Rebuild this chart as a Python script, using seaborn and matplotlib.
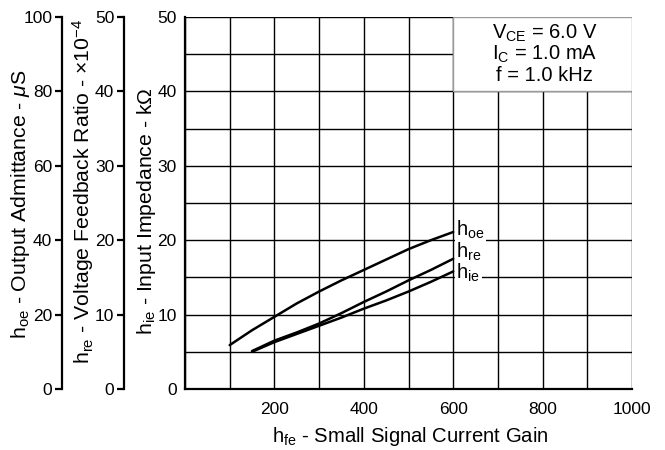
import matplotlib
matplotlib.use("Agg")
import matplotlib.pyplot as plt
import seaborn as sns
import pandas as pd
from matplotlib.patches import Rectangle

# ---- data ----
hfe_oe = [100, 150, 200, 250, 300, 350, 400, 450, 500, 550, 600]
hoe_uS = [11.8, 15.8, 19.4, 23.0, 26.2, 29.2, 32.0, 34.8, 37.6, 40.0, 42.2]  # uS (0-100 axis)
hfe_re = [150, 200, 250, 300, 350, 400, 450, 500, 550, 600]
hre_e4 = [5.1, 6.5, 7.6, 8.8, 10.2, 11.7, 13.1, 14.6, 16.0, 17.5]           # x1e-4 (0-50 axis)
hfe_ie = [150, 200, 250, 300, 350, 400, 450, 500, 550, 600]
hie_k = [5.0, 6.3, 7.4, 8.5, 9.6, 10.8, 11.9, 13.1, 14.4, 15.8]             # kOhm (0-50 axis)

x_ticks = [0, 100, 200, 300, 400, 500, 600, 700, 800, 900, 1000]
x_ticklabels = ["", "", "200", "", "400", "", "600", "", "800", "", "1000"]
y_ticks = [0, 5, 10, 15, 20, 25, 30, 35, 40, 45, 50]
y_ticklabels = ["0", "", "10", "", "20", "", "30", "", "40", "", "50"]
oe_ticks = [0, 20, 40, 60, 80, 100]
re_ticks = [0, 10, 20, 30, 40, 50]

sns.set_theme(style="white")
plt.rcParams["font.family"] = ["Liberation Sans", "DejaVu Sans"]
plt.rcParams["mathtext.fontset"] = "custom"
plt.rcParams["mathtext.rm"] = "Liberation Sans"
plt.rcParams["mathtext.it"] = "Liberation Sans:italic"
plt.rcParams["text.color"] = "black"
plt.rcParams["axes.labelcolor"] = "black"
plt.rcParams["xtick.color"] = "black"
plt.rcParams["ytick.color"] = "black"
FS_TICK = 12.5
FS_YLAB = 15.3
FS_XLAB = 14.6
FS_TXT = 14.5

fig = plt.figure(figsize=(6.65, 4.5), dpi=100)
L, R, B, T = 185 / 665, 632 / 665, 1 - 389 / 450, 1 - 17 / 450
ax = fig.add_axes([L, B, R - L, T - B])
ax.set_xlim(0, 1000)
ax.set_ylim(0, 50)
ax.set_xticks(x_ticks)
ax.set_xticklabels(x_ticklabels)
ax.set_yticks(y_ticks)
ax.set_yticklabels(y_ticklabels)
ax.tick_params(axis="both", length=0, labelsize=FS_TICK, colors="black")
ax.tick_params(axis="y", pad=6)
ax.tick_params(axis="x", pad=9)
ax.grid(True, color="black", linewidth=1.0)
for s in ["top", "right"]:
    ax.spines[s].set_visible(False)
for s in ["left", "bottom"]:
    ax.spines[s].set_color("black")
    ax.spines[s].set_linewidth(1.6)

# condition box
ax.add_patch(Rectangle((600, 40), 400, 10, facecolor="white", edgecolor="#9a9a9a",
                       linewidth=1.0, zorder=3))
ax.text(805, 47.8, r"V$_{\rm CE}$ = 6.0 V", ha="center", va="center", fontsize=FS_TXT, zorder=4)
ax.text(805, 45.0, r"I$_{\rm C}$ = 1.0 mA", ha="center", va="center", fontsize=FS_TXT, zorder=4)
ax.text(805, 42.2, "f = 1.0 kHz", ha="center", va="center", fontsize=FS_TXT, zorder=4)

# hie / hre on main axis (both 0-50 scale)
df_re = pd.DataFrame({"hfe": hfe_re, "v": hre_e4})
df_ie = pd.DataFrame({"hfe": hfe_ie, "v": hie_k})
sns.lineplot(data=df_re, x="hfe", y="v", ax=ax, color="black", linewidth=1.8, zorder=5)
sns.lineplot(data=df_ie, x="hfe", y="v", ax=ax, color="black", linewidth=1.8, zorder=5)
ax.set_xlabel("")
ax.set_ylabel("")

# hoe on twin axis (0-100)
ax_oe = ax.twinx()
df_oe = pd.DataFrame({"hfe": hfe_oe, "v": hoe_uS})
sns.lineplot(data=df_oe, x="hfe", y="v", ax=ax_oe, color="black", linewidth=1.8)
ax_oe.set_ylim(0, 100)
ax_oe.set_ylabel("")
ax_oe.set_xlabel("")
ax_oe.patch.set_visible(False)
for s in ["top", "right", "bottom"]:
    ax_oe.spines[s].set_visible(False)
ax_oe.spines["left"].set_visible(True)
ax_oe.spines["left"].set_position(("axes", (62 - 185) / 447))
ax_oe.spines["left"].set_color("black")
ax_oe.spines["left"].set_linewidth(1.6)
ax_oe.yaxis.set_ticks_position("left")
ax_oe.set_yticks(oe_ticks)
ax_oe.tick_params(axis="y", direction="out", length=5, width=1.6, labelsize=FS_TICK,
                  colors="black", pad=2)

# hre separate axis scale (0-50)
ax_re = ax.twinx()
ax_re.set_ylim(0, 50)
ax_re.patch.set_visible(False)
for s in ["top", "right", "bottom"]:
    ax_re.spines[s].set_visible(False)
ax_re.spines["left"].set_visible(True)
ax_re.spines["left"].set_position(("axes", (124 - 185) / 447))
ax_re.spines["left"].set_color("black")
ax_re.spines["left"].set_linewidth(1.6)
ax_re.yaxis.set_ticks_position("left")
ax_re.set_yticks(re_ticks)
ax_re.tick_params(axis="y", direction="out", length=5, width=1.6, labelsize=FS_TICK,
                  colors="black", pad=2)

# curve labels
lab_kw = dict(ha="left", va="center", fontsize=FS_TXT, zorder=6,
              bbox=dict(facecolor="white", edgecolor="none", pad=1.0))
ax.text(607, 21.4, r"h$_{\rm oe}$", **lab_kw)
ax.text(607, 18.5, r"h$_{\rm re}$", **lab_kw)
ax.text(607, 15.6, r"h$_{\rm ie}$", **lab_kw)

# axis titles
fig.text(21 / 665, 1 - 204 / 450, r"h$_{\rm oe}$ - Output Admittance - $\mu$S",
         rotation=90, ha="center", va="center", fontsize=FS_YLAB)
fig.text(83 / 665, 1 - 191 / 450, r"h$_{\rm re}$ - Voltage Feedback Ratio - $\times$10$^{-4}$",
         rotation=90, ha="center", va="center", fontsize=FS_YLAB)
fig.text(146 / 665, 1 - 211 / 450, r"h$_{\rm ie}$ - Input Impedance - k$\Omega$",
         rotation=90, ha="center", va="center", fontsize=FS_YLAB)
fig.text(410 / 665, 1 - 437 / 450, r"h$_{\rm fe}$ - Small Signal Current Gain",
         ha="center", va="center", fontsize=FS_XLAB)

fig.savefig("out.png", dpi=100, facecolor="white")
